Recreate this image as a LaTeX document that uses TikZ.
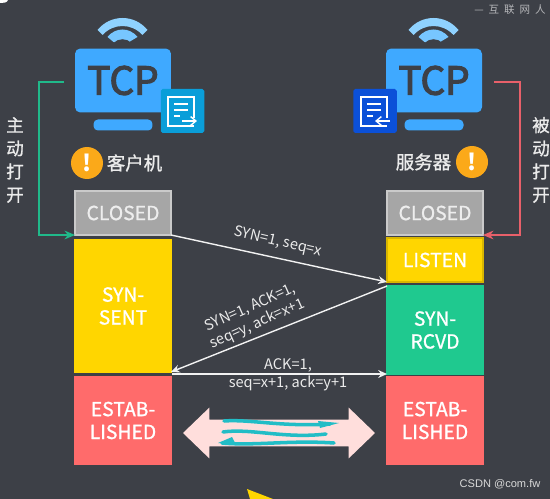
\documentclass[tikz,border=0pt]{standalone}
\usepackage{fontspec}
\setmainfont{Noto Sans CJK SC}
\newfontfamily\csdnfont{Liberation Sans}
\newfontfamily\tcpfont[FakeBold=3]{Noto Sans CJK SC}
\newfontfamily\boxfont[FakeBold=1]{Noto Sans CJK SC}
\usetikzlibrary{shapes.arrows,arrows.meta}
\definecolor{slate}{HTML}{3D4047}
\definecolor{tcpblue}{HTML}{3FA9FF}
\definecolor{wifisky}{HTML}{8FD2FF}
\definecolor{iconcyan}{HTML}{0A9ED9}
\definecolor{iconnavy}{HTML}{0B50D8}
\definecolor{warnorange}{HTML}{FBA919}
\definecolor{stgray}{HTML}{A6A6A6}
\definecolor{styellow}{HTML}{FFD600}
\definecolor{stgreen}{HTML}{1FC98F}
\definecolor{stred}{HTML}{FF6B6B}
\definecolor{openteal}{HTML}{20B98A}
\definecolor{openred}{HTML}{E8606A}
\definecolor{wavepink}{HTML}{FFDEDC}
\definecolor{waveteal}{HTML}{22BDC6}
\tikzset{
  wifiicon/.pic={
    \fill[wifisky] (-25,13) .. controls (-12,-3) and (12,-3) .. (25,13)
      -- (20,18) .. controls (9,6) and (-9,6) .. (-20,18) -- cycle;
    \fill[wifisky!70!tcpblue] (-15,20) .. controls (-7,10) and (7,10) .. (15,20)
      -- (0,29) -- (-9,25) -- cycle;
    \fill[slate] (-9,26) .. controls (-4,21) and (4,21) .. (9,26) -- (0,32) -- cycle;
  },
  docicon/.pic={
    \draw[white, line width=0.8pt] (13,19) -- (-13,19) -- (-13,-10) -- (13,-10) -- (13,12);
    \draw[white, line width=0.8pt] (-7,-3) -- (7,-3) (-7,3) -- (7,3) (-7,9) -- (-1,9);
  }
}
\begin{document}
\begin{tikzpicture}[x=0.02cm, y=-0.02cm,
  stbox/.style={draw, line width=0.6pt, minimum width=1.92cm, inner sep=0pt, outer sep=0pt,
    text=white, font=\fontsize{11}{13}\selectfont\boxfont, align=center},
  monitor/.style={fill=tcpblue, rounded corners=3pt, minimum width=1.92cm, minimum height=1.28cm,
    inner sep=0pt, text=slate, font=\fontsize{22}{24}\selectfont\tcpfont},
  stand/.style={fill=tcpblue, rounded corners=2.5pt, minimum width=1.18cm, minimum height=0.22cm, inner sep=0pt},
  iconbox/.style={rounded corners=1pt, minimum width=0.87cm, minimum height=0.88cm, inner sep=0pt},
  warn/.style={circle, fill=warnorange, minimum size=0.64cm, inner sep=0pt, text=white,
    font=\fontsize{13}{13}\selectfont\bfseries},
  role/.style={text=white!92!black, inner sep=0pt, font=\fontsize{10.5}{12}\selectfont\boxfont},
  opentxt/.style={text=white!92!black, inner sep=0pt, align=center, font=\fontsize{10}{13.2}\selectfont\boxfont},
  msg/.style={text=white!92!black, inner sep=0pt, align=center, font=\fontsize{8.3}{10}\selectfont},
  flow/.style={-{Stealth[length=5pt,width=4.5pt]}, white!95!black, line width=0.8pt},
  wave/.style={waveteal, line width=2pt, line cap=round}]
  \useasboundingbox (0,0) rectangle (550,499);
  \fill[slate] (0,0) rectangle (550,499);
  \fill[white] (0,0) -- (8,0) .. controls (7,3) and (3,3) .. (0,3) -- cycle;
  \fill[styellow] (247,489) -- (273,499) -- (250,499) -- cycle;
  % Client and server computers
  \pic at (122.5,17) {wifiicon};
  \pic at (433.5,17) {wifiicon};
  \node[monitor] (monL) at (123,80.5) {TCP};
  \node[monitor] (monR) at (434,80.5) {TCP};
  \node[stand] (standL) at (123,125) {};
  \node[stand] (standR) at (434,125) {};
  \node[iconbox, fill=iconcyan] (iconL) at (182.5,111) {};
  \node[iconbox, fill=iconnavy] (iconR) at (375,111) {};
  \pic at (181,107) {docicon};
  \pic at (374,107) {docicon};
  \draw[iconcyan, line width=3pt] (181,121) -- (198,121);
  \draw[iconnavy, line width=3pt] (374,121) -- (391,121);
  \draw[-{Straight Barb[length=3pt,width=5pt]}, white, line width=0.8pt] (182,121) -- (197,121);
  \draw[-{Straight Barb[length=3pt,width=5pt]}, white, line width=0.8pt] (390,121) -- (375,121);
  % Names under the computers
  \node[warn] (warnL) at (87,163) {!};
  \node[warn] (warnR) at (472,162) {!};
  \node[role] (nameL) at (134.5,163) {客户机};
  \node[role] (nameR) at (423.5,162) {服务器};
  % States of the client
  \node[stbox, draw=stgray!60!white, fill=stgray, text=white!93!black, minimum height=0.88cm] (closedL) at (123,213) {CLOSED};
  \node[stbox, draw=styellow, fill=styellow, minimum height=2.64cm] (sent) at (123,306) {SYN-\\SENT};
  \node[stbox, draw=stred, fill=stred, minimum height=1.74cm] (estabL) at (123,420.5) {ESTAB-\\LISHED};
  % States of the server
  \node[stbox, draw=stgray!60!white, fill=stgray, text=white!93!black, minimum height=0.88cm] (closedR) at (435,213) {CLOSED};
  \node[stbox, draw=styellow!85!black, fill=styellow, minimum height=0.88cm] (listen) at (435,260) {LISTEN};
  \node[stbox, draw=stgreen, fill=stgreen, minimum height=1.76cm] (rcvd) at (435,330) {SYN-\\RCVD};
  \node[stbox, draw=stred, fill=stred, minimum height=1.74cm] (estabR) at (435,420.5) {ESTAB-\\LISHED};
  % Open arrows
  \coordinate (startL) at (64,82);
  \coordinate (startR) at (494,82);
  \draw[-{Stealth[length=6pt,width=5pt]}, openteal, line width=0.8pt] (startL) -- (39,82) |- (closedL.south west);
  \draw[-{Stealth[length=6pt,width=5pt]}, openred, line width=0.8pt] (startR) -- (520,82) |- (closedR.south east);
  \node[opentxt] (activeTxt) at (15,160) {主\\动\\打\\开};
  \node[opentxt] (passiveTxt) at (541,160) {被\\动\\打\\开};
  % Handshake
  \draw[flow] (closedL.south east) -- (listen.south west);
  \draw[flow] (rcvd.north west) -- (sent.south east);
  \coordinate (ackStart) at (172,374);
  \coordinate (ackEnd) at (387,374);
  \draw[flow] (ackStart) -- (ackEnd);
  \node[msg, rotate=-13] (synTxt) at (278,242) {SYN=1, seq=x};
  \node[msg, rotate=24] (synackTxt) at (254,316) {SYN=1, ACK=1,\\seq=y, ack=x+1};
  \node[msg] (ackTxt) at (288,375) {ACK=1,\\seq=x+1, ack=y+1};
  % Data transfer
  \node[double arrow, fill=wavepink, minimum height=3.84cm, minimum width=1cm, inner xsep=0pt, inner ysep=0.26cm,
    double arrow head extend=0.24cm, double arrow tip angle=88, double arrow head indent=0cm] (data) at (279,433) {};
  \draw[wave] (224,421) .. controls (250,419) and (280,427) .. (330,424);
  \fill[waveteal] (318,421) -- (339,423) -- (320,428) -- cycle;
  \draw[wave] (223,432) .. controls (250,428) and (285,439) .. (326,434);
  \draw[wave] (222,443) .. controls (255,446) and (290,440) .. (334,443);
  \fill[waveteal] (218,443) -- (232,437) -- (236,445) -- cycle;
  % Marks in the corners
  \node[text=white!62!slate, inner sep=0pt, font=\fontsize{6}{7}\selectfont] (brand) at (510,10) {— \hspace{1.5pt}互\hspace{2.8pt}联\hspace{2.8pt}网\hspace{2.8pt}人};
  \node[text=white!85!black, inner sep=0pt, font=\fontsize{6.3}{7}\selectfont\csdnfont] (csdn) at (500,484) {CSDN @com.fw};
\end{tikzpicture}
\end{document}
